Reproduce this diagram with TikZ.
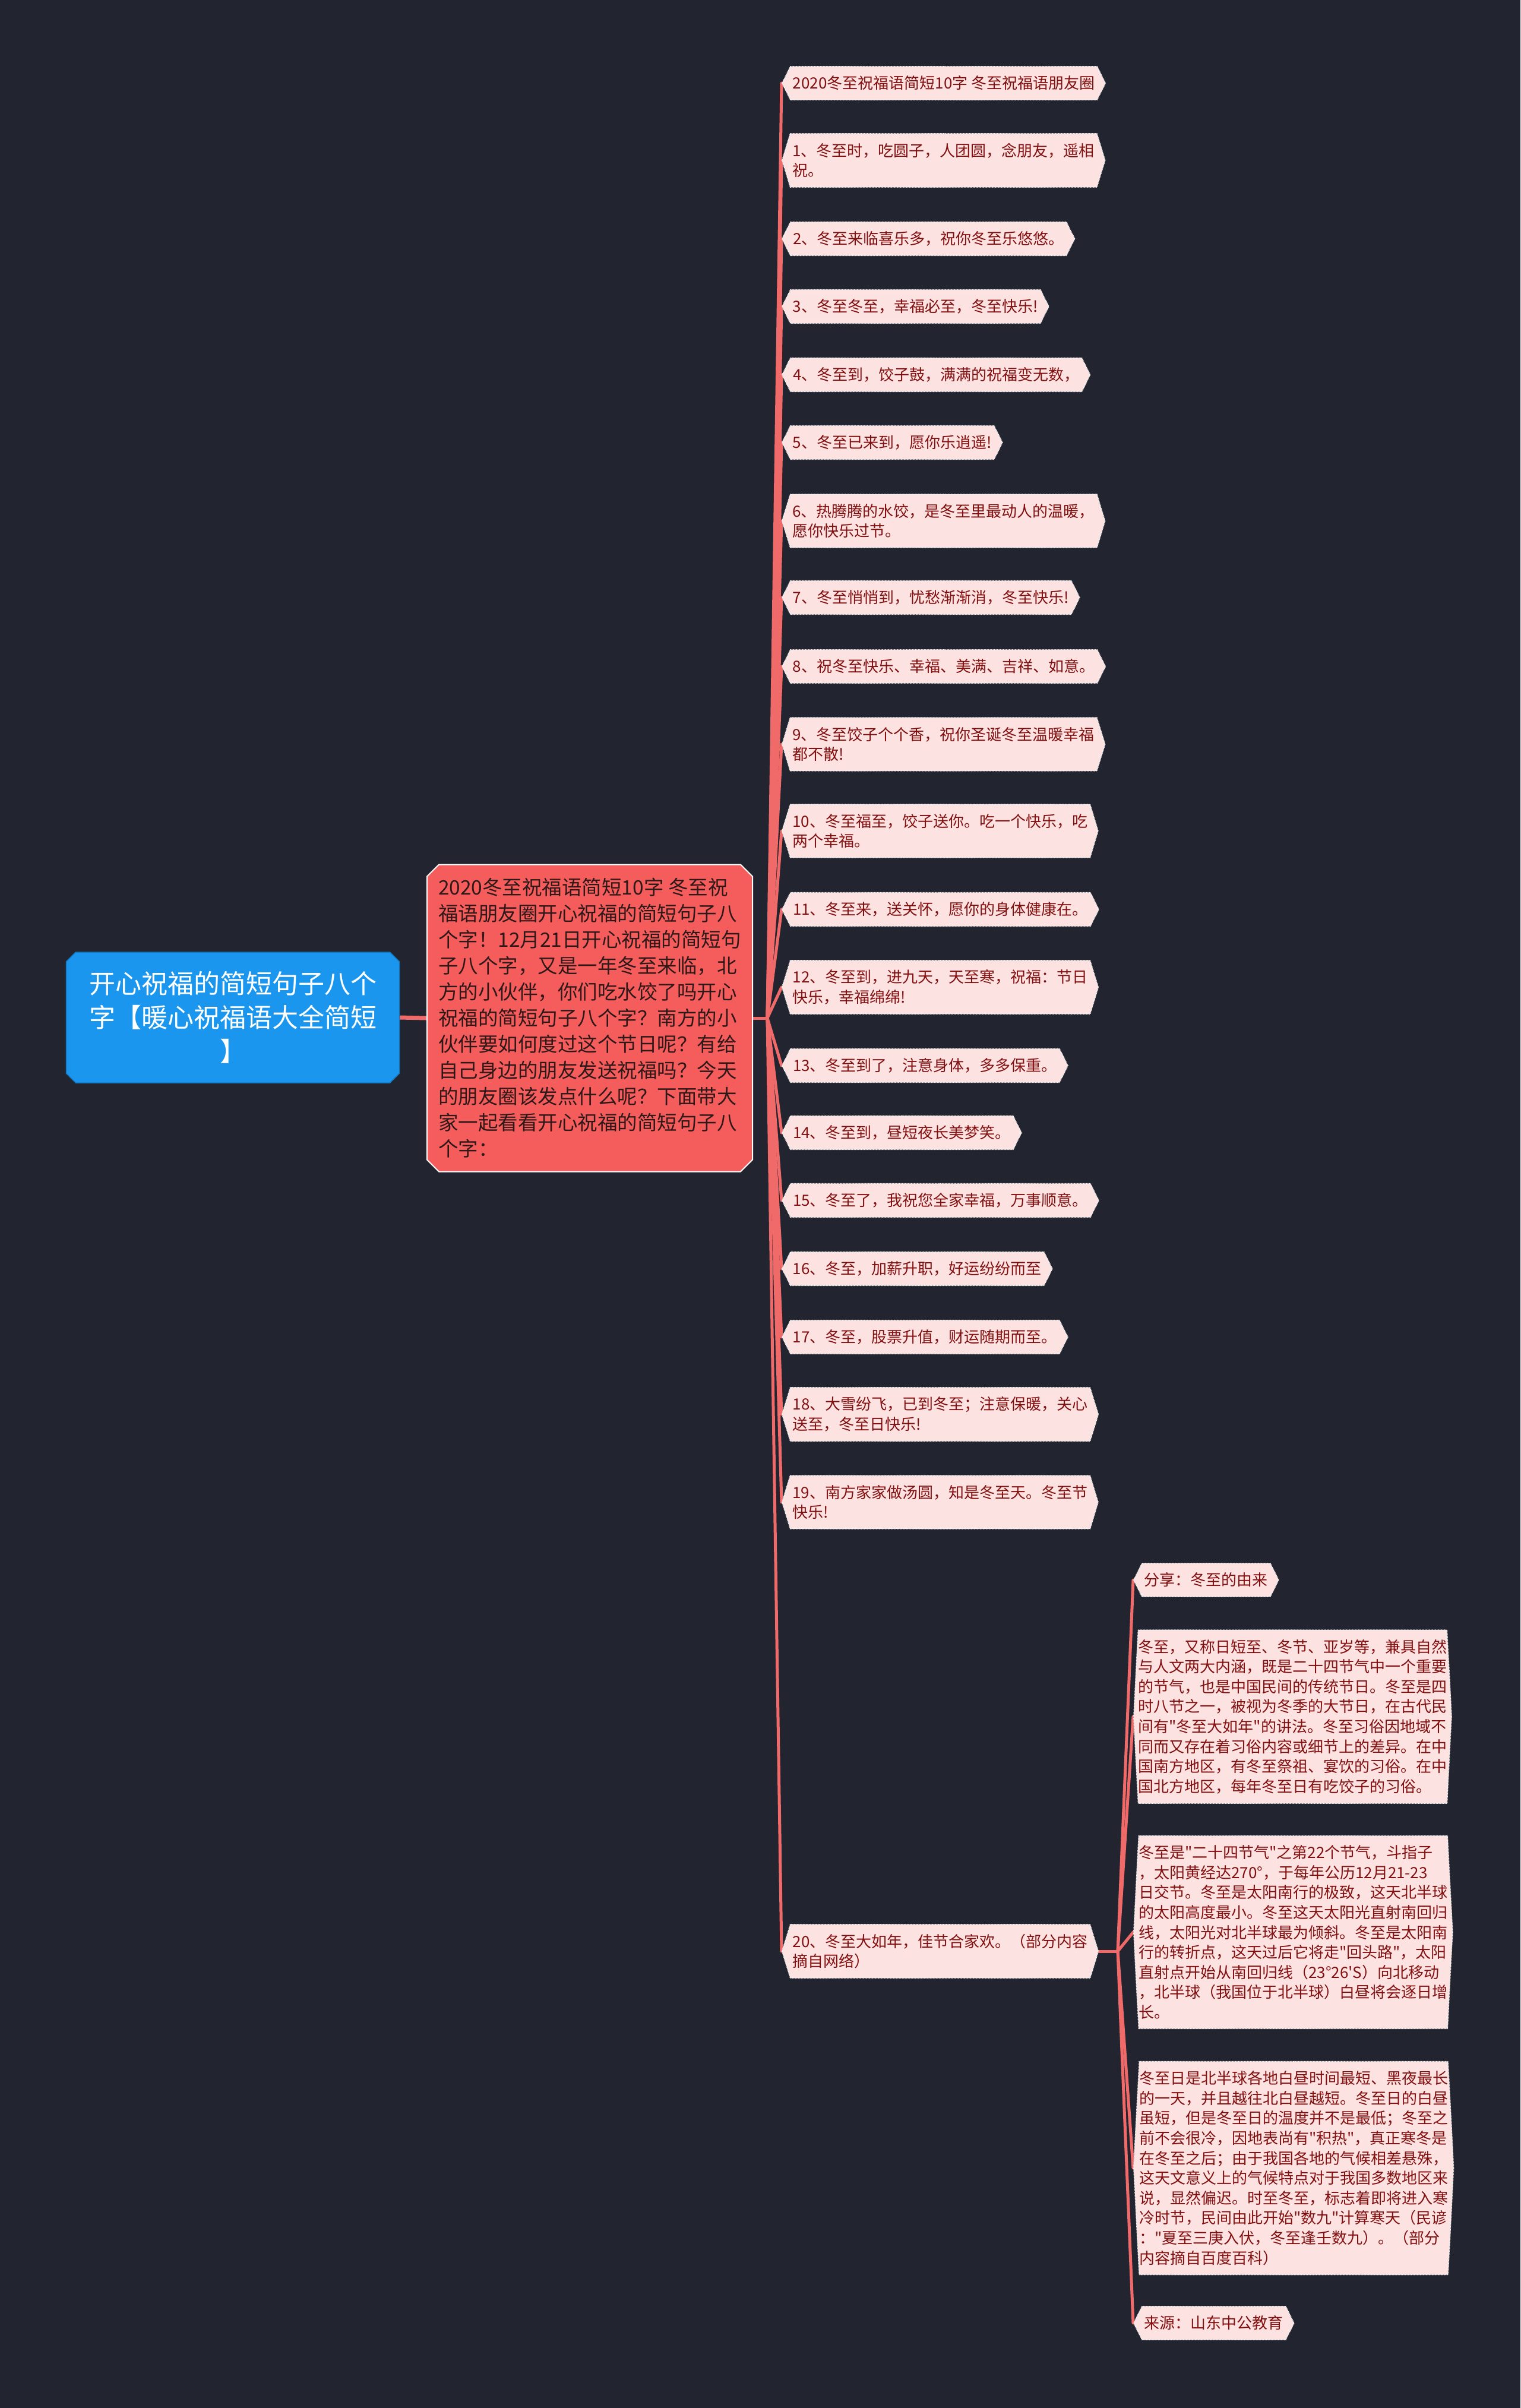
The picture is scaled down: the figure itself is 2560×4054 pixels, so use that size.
\documentclass[tikz,border=0pt]{standalone}
\usepackage{fontspec}
\setmainfont{Noto Sans CJK SC}[Ligatures=TeXOff]
\usetikzlibrary{shapes.symbols,shapes.misc}
\definecolor{bgc}{HTML}{22252F}
\definecolor{rootc}{HTML}{1A96EF}
\definecolor{midc}{HTML}{F55D5D}
\definecolor{midtxt}{HTML}{2E1818}
\definecolor{leafc}{HTML}{FDE2E2}
\definecolor{leaftxt}{HTML}{821010}
\definecolor{linkc}{HTML}{F06A6A}
\pgfdeclarelayer{bgl}
\pgfdeclarelayer{edges}
\pgfsetlayers{bgl,edges,main}
\tikzset{
 rootbox/.style={chamfered rectangle, chamfered rectangle xsep=8pt, chamfered rectangle ysep=8pt, fill=rootc, draw=rootc!80!black, line width=1.5pt, text=white, minimum width=561pt, minimum height=220pt, align=center, font=\fontsize{44}{57}\selectfont, inner sep=0pt},
 midbox/.style={chamfered rectangle, chamfered rectangle xsep=10pt, chamfered rectangle ysep=10pt, fill=midc, draw=white, line width=2pt, text=midtxt, minimum width=548pt, minimum height=517pt, align=left, font=\fontsize{33.5}{44}\selectfont, inner sep=0pt},
 leafbase/.style={signal, signal to=east and west, fill=leafc, draw=white!90!gray, densely dotted, line width=1.5pt, text=leaftxt, align=left, font=\fontsize{26}{33.6}\selectfont, inner xsep=4pt, inner ysep=16pt, anchor=west},
 leafone/.style={leafbase, signal pointer angle=127},
 leaftwo/.style={leafbase, signal pointer angle=146},
 bigbox/.style={leafbase, signal pointer angle=174, inner xsep=0pt, inner ysep=16pt},
 link/.style={draw=linkc, line width=5pt, line cap=round},
}
\begin{document}
\begin{tikzpicture}[x=1pt,y=-1pt]
\begin{pgfonlayer}{bgl}
\fill[bgc] (0,0) rectangle (2560,4054);
\end{pgfonlayer}
\useasboundingbox (0,0) rectangle (2560,4054);

\node[rootbox] (root) at (392,1713) {开心祝福的简短句子八个\\字【暖心祝福语大全简短\\】};

\node[midbox] (mid) at (993,1714) {2020冬至祝福语简短10字 冬至祝\\福语朋友圈开心祝福的简短句子八\\个字！12月21日开心祝福的简短句\\子八个字，又是一年冬至来临，北\\方的小伙伴，你们吃水饺了吗开心\\祝福的简短句子八个字？南方的小\\伙伴要如何度过这个节日呢？有给\\自己身边的朋友发送祝福吗？今天\\的朋友圈该发点什么呢？下面带大\\家一起看看开心祝福的简短句子八\\个字：};

\coordinate (hub) at (1292,1714);

\node[leafone] (L0) at (1316,140) {2020冬至祝福语简短10字 冬至祝福语朋友圈};
\node[leaftwo] (L1) at (1316,270) {1、冬至时，吃圆子，人团圆，念朋友，遥相\\祝。};
\node[leafone] (L2) at (1316,402) {2、冬至来临喜乐多，祝你冬至乐悠悠。};
\node[leafone] (L3) at (1316,516) {3、冬至冬至，幸福必至，冬至快乐!};
\node[leafone] (L4) at (1316,631) {4、冬至到，饺子鼓，满满的祝福变无数，};
\node[leafone] (L5) at (1316,745) {5、冬至已来到，愿你乐逍遥!};
\node[leaftwo] (L6) at (1316,877) {6、热腾腾的水饺，是冬至里最动人的温暖，\\愿你快乐过节。};
\node[leafone] (L7) at (1316,1006) {7、冬至悄悄到，忧愁渐渐消，冬至快乐!};
\node[leafone] (L8) at (1316,1122) {8、祝冬至快乐、幸福、美满、吉祥、如意。};
\node[leaftwo] (L9) at (1316,1253) {9、冬至饺子个个香，祝你圣诞冬至温暖幸福\\都不散!};
\node[leaftwo] (L10) at (1316,1399) {10、冬至福至，饺子送你。吃一个快乐，吃\\两个幸福。};
\node[leafone] (L11) at (1316,1531) {11、冬至来，送关怀，愿你的身体健康在。};
\node[leaftwo] (L12) at (1316,1662) {12、冬至到，进九天，天至寒，祝福：节日\\快乐，幸福绵绵!};
\node[leafone] (L13) at (1316,1794) {13、冬至到了，注意身体，多多保重。};
\node[leafone] (L14) at (1316,1907) {14、冬至到，昼短夜长美梦笑。};
\node[leafone] (L15) at (1316,2021) {15、冬至了，我祝您全家幸福，万事顺意。};
\node[leafone] (L16) at (1316,2136) {16、冬至，加薪升职，好运纷纷而至};
\node[leafone] (L17) at (1316,2251) {17、冬至，股票升值，财运随期而至。};
\node[leaftwo] (L18) at (1316,2381) {18、大雪纷飞，已到冬至；注意保暖，关心\\送至，冬至日快乐!};
\node[leaftwo] (L19) at (1316,2529) {19、南方家家做汤圆，知是冬至天。冬至节\\快乐!};
\node[leaftwo] (L20) at (1316,3285) {20、冬至大如年，佳节合家欢。（部分内容\\摘自网络）};

\coordinate (hub2) at (1882,3285);

\node[leafone] (Ba) at (1908,2660) {分享：冬至的由来};
\node[bigbox] (Bb) at (1908,2890) {冬至，又称日短至、冬节、亚岁等，兼具自然\\与人文两大内涵，既是二十四节气中一个重要\\的节气，也是中国民间的传统节日。冬至是四\\时八节之一，被视为冬季的大节日，在古代民\\间有"冬至大如年"的讲法。冬至习俗因地域不\\同而又存在着习俗内容或细节上的差异。在中\\国南方地区，有冬至祭祖、宴饮的习俗。在中\\国北方地区，每年冬至日有吃饺子的习俗。};
\node[bigbox] (Bc) at (1908,3253) {冬至是"二十四节气"之第22个节气，斗指子\\，太阳黄经达270°，于每年公历12月21-23\\日交节。冬至是太阳南行的极致，这天北半球\\的太阳高度最小。冬至这天太阳光直射南回归\\线，太阳光对北半球最为倾斜。冬至是太阳南\\行的转折点，这天过后它将走"回头路"，太阳\\直射点开始从南回归线（23°26'S）向北移动\\，北半球（我国位于北半球）白昼将会逐日增\\长。};
\node[bigbox] (Bd) at (1908,3650) {冬至日是北半球各地白昼时间最短、黑夜最长\\的一天，并且越往北白昼越短。冬至日的白昼\\虽短，但是冬至日的温度并不是最低；冬至之\\前不会很冷，因地表尚有"积热"，真正寒冬是\\在冬至之后；由于我国各地的气候相差悬殊，\\这天文意义上的气候特点对于我国多数地区来\\说，显然偏迟。时至冬至，标志着即将进入寒\\冷时节，民间由此开始"数九"计算寒天（民谚\\："夏至三庚入伏，冬至逢壬数九）。（部分\\内容摘自百度百科）};
\node[leafone] (Be) at (1908,3911) {来源：山东中公教育};

\begin{pgfonlayer}{edges}
\draw[link, line width=7pt] (root.east) -- (mid.west);
\draw[link] (mid.east) -- (hub);
\foreach \n in {L0,L1,L2,L3,L4,L5,L6,L7,L8,L9,L10,L11,L12,L13,L14,L15,L16,L17,L18,L19,L20}
  \draw[link] (hub) -- (\n.west);
\draw[link] (L20.east) -- (hub2);
\foreach \n in {Ba,Bb,Bc,Bd,Be}
  \draw[link] (hub2) -- (\n.west);
\end{pgfonlayer}
\end{tikzpicture}
\end{document}
